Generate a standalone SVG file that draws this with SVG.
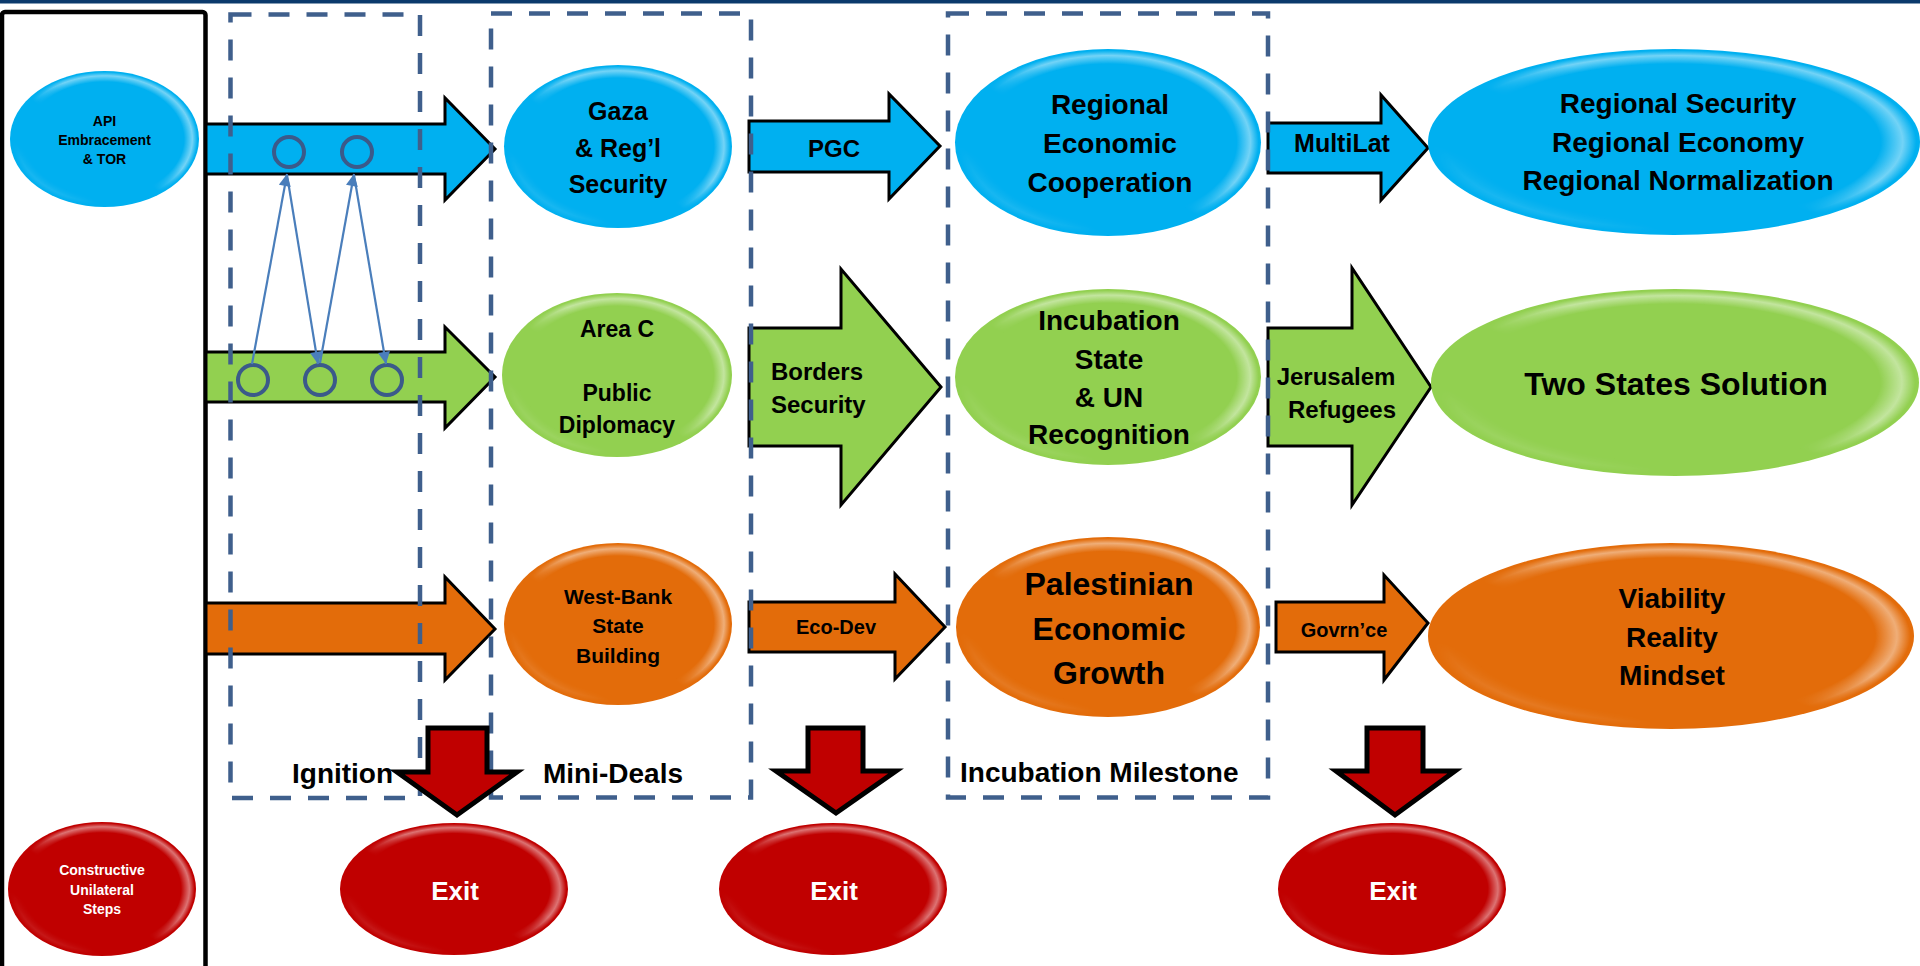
<svg xmlns="http://www.w3.org/2000/svg" width="1920" height="966" viewBox="0 0 1920 966">
<style>
text{font-family:"Liberation Sans",Arial,sans-serif;font-weight:bold;fill:#000}
.c{text-anchor:middle}
.w{fill:#fff}
.blk{stroke:#000;stroke-width:3;stroke-linejoin:miter}
.down{fill:#C00000;stroke:#000;stroke-width:5;stroke-linejoin:miter}
.phase{fill:none;stroke:#3F5F8C;stroke-width:4.5;stroke-dasharray:21 17}
.ring{fill:none;stroke:#3B5A8A;stroke-width:4}
.thin{stroke:#4A7EBB;stroke-width:2.2;fill:none}
.hl{fill:url(#hl);mask:url(#hm)}
.b{fill:#00B0F0}.g{fill:#92D050}.o{fill:#E36C0A}.r{fill:#C00000}
</style>
<defs>
<radialGradient id="hl" cx="0.5" cy="0.5" r="0.5"><stop offset="0" stop-color="#fff" stop-opacity="0"/><stop offset="0.84" stop-color="#fff" stop-opacity="0"/><stop offset="0.93" stop-color="#fff" stop-opacity="0.45"/><stop offset="0.985" stop-color="#fff" stop-opacity="0"/></radialGradient>
<linearGradient id="mg" x1="1" y1="0" x2="0" y2="1"><stop offset="0" stop-color="#fff"/><stop offset="0.4" stop-color="#fff"/><stop offset="0.55" stop-color="#000"/><stop offset="0.75" stop-color="#000"/><stop offset="1" stop-color="#aaa"/></linearGradient>
<mask id="hm" maskContentUnits="objectBoundingBox"><rect width="1" height="1" fill="url(#mg)"/></mask>
<marker id="ah" viewBox="0 0 10 10" refX="10" refY="5" markerWidth="6" markerHeight="5.5" orient="auto" markerUnits="strokeWidth"><path d="M0,0 L10,5 L0,10 z" fill="#4A7EBB"/></marker>
</defs>
<rect width="1920" height="966" fill="#fff"/>
<rect x="0" y="0" width="1920" height="3.5" fill="#0B3A6C"/>
<rect x="2" y="12" width="203.5" height="1000" rx="3" fill="none" stroke="#000" stroke-width="4.5"/>

<g id="connectors">
<path class="blk" fill="#00B0F0" d="M206,124 H445 V98 L495,149 L445,200 V174 H206 Z"/>
<path class="blk" fill="#92D050" d="M206,352 H445 V327 L495,377 L445,428 V402 H206 Z"/>
<path class="blk" fill="#E36C0A" d="M206,603 H445 V577 L495,629 L445,680 V654 H206 Z"/>
<path class="blk" fill="#00B0F0" d="M749,121 H889 V94 L940,146 L889,199 V172 H749 Z"/>
<path class="blk" fill="#92D050" d="M749,328 H841 V269 L941,387 L841,505 V446 H749 Z"/>
<path class="blk" fill="#E36C0A" d="M749,602 H895 V574 L945,627 L895,679 V652 H749 Z"/>
<path class="blk" fill="#00B0F0" d="M1268,123 H1381 V95 L1428,148 L1381,200 V173 H1268 Z"/>
<path class="blk" fill="#92D050" d="M1268,328 H1352 V268 L1431,387 L1352,505 V446 H1268 Z"/>
<path class="blk" fill="#E36C0A" d="M1276,602 H1384 V575 L1428,623 L1384,680 V652 H1276 Z"/>
</g>

<g id="phases">
<rect class="phase" x="230.5" y="14.5" width="189.5" height="783.5"/>
<rect class="phase" x="491" y="13.5" width="260" height="784"/>
<rect class="phase" x="948" y="13.5" width="320" height="784"/>
</g>

<g id="links">
<circle class="ring" cx="289" cy="152" r="15"/>
<circle class="ring" cx="357" cy="152" r="15"/>
<circle class="ring" cx="253" cy="380" r="15"/>
<circle class="ring" cx="320" cy="380" r="15"/>
<circle class="ring" cx="387" cy="380" r="15"/>
<line class="thin" x1="252" y1="364" x2="287" y2="174" marker-end="url(#ah)"/>
<line class="thin" x1="287" y1="175" x2="318" y2="364" marker-end="url(#ah)"/>
<line class="thin" x1="320" y1="363" x2="354" y2="174" marker-end="url(#ah)"/>
<line class="thin" x1="354" y1="175" x2="386" y2="364" marker-end="url(#ah)"/>
<path class="down" d="M428,728 H487 V772 H517 L457,815 L397,772 H428 Z"/>
<path class="down" d="M808,728 H863 V771 H896 L836,813 L776,771 H808 Z"/>
<path class="down" d="M1367,728 H1423 V771 H1455 L1395,815 L1336,771 H1367 Z"/>
</g>

<g id="api"><ellipse class="b" cx="104.5" cy="139" rx="94.5" ry="68"/><ellipse class="hl" cx="104.5" cy="139" rx="94.5" ry="68"/>
<text class="c" font-size="14" x="104.5" y="126">API</text><text class="c" font-size="14" x="104.5" y="145">Embracement</text><text class="c" font-size="14" x="104.5" y="164">&amp; TOR</text></g>
<g id="constructive"><ellipse class="r" cx="102" cy="889" rx="94" ry="67"/><ellipse class="hl" cx="102" cy="889" rx="94" ry="67"/>
<text class="c w" font-size="14" x="102" y="875">Constructive</text><text class="c w" font-size="14" x="102" y="895">Unilateral</text><text class="c w" font-size="14" x="102" y="914">Steps</text></g>

<g id="gaza"><ellipse class="b" cx="618" cy="146.5" rx="114" ry="81.5"/><ellipse class="hl" cx="618" cy="146.5" rx="114" ry="81.5"/>
<text class="c" font-size="25" x="618" y="120">Gaza</text><text class="c" font-size="25" x="618" y="157">&amp; Reg’l</text><text class="c" font-size="25" x="618" y="193">Security</text></g>
<g id="areac"><ellipse class="g" cx="617" cy="375" rx="115" ry="82"/><ellipse class="hl" cx="617" cy="375" rx="115" ry="82"/>
<text class="c" font-size="23" x="617" y="337">Area C</text><text class="c" font-size="23" x="617" y="401">Public</text><text class="c" font-size="23" x="617" y="433">Diplomacy</text></g>
<g id="westbank"><ellipse class="o" cx="618" cy="624" rx="114" ry="81"/><ellipse class="hl" cx="618" cy="624" rx="114" ry="81"/>
<text class="c" font-size="21" x="618" y="604">West-Bank</text><text class="c" font-size="21" x="618" y="633">State</text><text class="c" font-size="21" x="618" y="663">Building</text></g>

<g id="regecon"><ellipse class="b" cx="1108" cy="142.5" rx="153" ry="93.5"/><ellipse class="hl" cx="1108" cy="142.5" rx="153" ry="93.5"/>
<text class="c" font-size="28" x="1110" y="114">Regional</text><text class="c" font-size="28" x="1110" y="153">Economic</text><text class="c" font-size="28" x="1110" y="192">Cooperation</text></g>
<g id="incubation"><ellipse class="g" cx="1108" cy="377" rx="153" ry="88"/><ellipse class="hl" cx="1108" cy="377" rx="153" ry="88"/>
<text class="c" font-size="28" x="1109" y="330">Incubation</text><text class="c" font-size="28" x="1109" y="369">State</text><text class="c" font-size="28" x="1109" y="407">&amp; UN</text><text class="c" font-size="28" x="1109" y="444">Recognition</text></g>
<g id="palestinian"><ellipse class="o" cx="1108" cy="627" rx="152" ry="90"/><ellipse class="hl" cx="1108" cy="627" rx="152" ry="90"/>
<text class="c" font-size="32" x="1109" y="595">Palestinian</text><text class="c" font-size="32" x="1109" y="640">Economic</text><text class="c" font-size="32" x="1109" y="684">Growth</text></g>

<g id="regional"><ellipse class="b" cx="1674" cy="142" rx="246" ry="93"/><ellipse class="hl" cx="1674" cy="142" rx="246" ry="93"/>
<text class="c" font-size="28" x="1678" y="113">Regional Security</text><text class="c" font-size="28" x="1678" y="152">Regional Economy</text><text class="c" font-size="28" x="1678" y="190">Regional Normalization</text></g>
<g id="twostates"><ellipse class="g" cx="1675" cy="382.5" rx="244" ry="93.5"/><ellipse class="hl" cx="1675" cy="382.5" rx="244" ry="93.5"/>
<text class="c" font-size="32" x="1676" y="395">Two States Solution</text></g>
<g id="viability"><ellipse class="o" cx="1671" cy="636" rx="243" ry="93"/><ellipse class="hl" cx="1671" cy="636" rx="243" ry="93"/>
<text class="c" font-size="28" x="1672" y="608">Viability</text><text class="c" font-size="28" x="1672" y="647">Reality</text><text class="c" font-size="28" x="1672" y="685">Mindset</text></g>

<g id="exit1"><ellipse class="r" cx="454" cy="889" rx="114" ry="66"/><ellipse class="hl" cx="454" cy="889" rx="114" ry="66"/><text class="c w" font-size="26" x="455" y="900">Exit</text></g>
<g id="exit2"><ellipse class="r" cx="833" cy="889" rx="114" ry="66"/><ellipse class="hl" cx="833" cy="889" rx="114" ry="66"/><text class="c w" font-size="26" x="834" y="900">Exit</text></g>
<g id="exit3"><ellipse class="r" cx="1392" cy="889" rx="114" ry="66"/><ellipse class="hl" cx="1392" cy="889" rx="114" ry="66"/><text class="c w" font-size="26" x="1393" y="900">Exit</text></g>

<g id="arrow-labels">
<text class="c" font-size="24" x="834" y="157">PGC</text>
<text font-size="24" x="771" y="380">Borders</text><text font-size="24" x="771" y="413">Security</text>
<text class="c" font-size="20" x="836" y="634">Eco-Dev</text>
<text class="c" font-size="25" x="1342" y="152">MultiLat</text>
<text class="c" font-size="24" x="1336" y="385">Jerusalem</text><text class="c" font-size="24" x="1342" y="418">Refugees</text>
<text class="c" font-size="20" x="1344" y="637">Govrn’ce</text>
</g>
<g id="phase-labels">
<text font-size="28" x="292" y="783">Ignition</text>
<text font-size="28" x="543" y="783">Mini-Deals</text>
<text font-size="28" x="960" y="782">Incubation Milestone</text>
</g>
</svg>
